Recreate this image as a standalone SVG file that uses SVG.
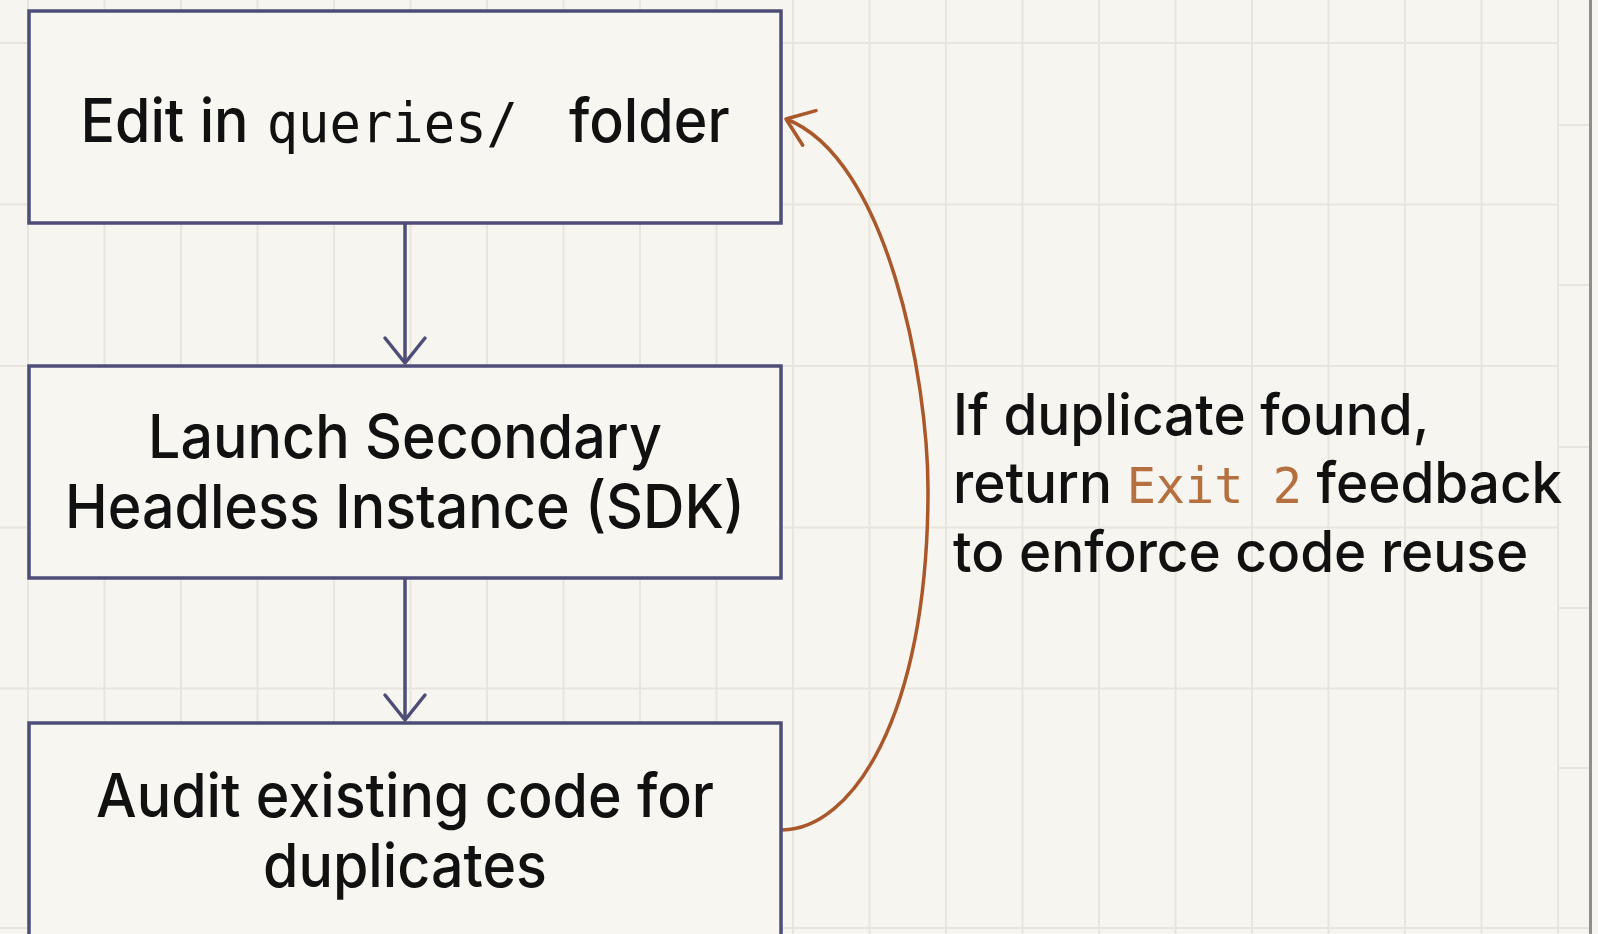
<svg xmlns="http://www.w3.org/2000/svg" width="1598" height="934" viewBox="0 0 1598 934">
  <style>
    .bg { fill: #f7f5ef; }
    .grid line { stroke: #e7e5de; stroke-width: 2; }
    .edge { stroke: #8e8e8c; stroke-width: 3; }
    .box { fill: #f8f6f1; stroke: #4d4d78; stroke-width: 3.5; }
    .label { font-family: Inter, "Noto Sans", "Liberation Sans", sans-serif; font-size: 61px; font-weight: 500; fill: #111111; }
    .note { font-family: Inter, "Noto Sans", "Liberation Sans", sans-serif; font-size: 57px; font-weight: 500; fill: #111111; }
    .mono { font-family: "DejaVu Sans Mono", "Liberation Mono", monospace; font-weight: 400; }
    .flow { fill: none; stroke: #4d4d78; stroke-width: 3.5; }
    .loop { fill: none; stroke: #a9582b; stroke-width: 3.5; }
    .exit { fill: #b5703f; }
  </style>
  <defs>
    <marker id="head-slate" markerUnits="userSpaceOnUse" markerWidth="60" markerHeight="60" refX="0" refY="0" orient="auto" overflow="visible">
      <path d="M -25 -20 L 0 0 L -25 20" fill="none" stroke="#4d4d78" stroke-width="3.5" stroke-linecap="round" stroke-linejoin="round"/>
    </marker>
    <marker id="head-rust" markerUnits="userSpaceOnUse" markerWidth="60" markerHeight="60" refX="0" refY="0" orient="auto" overflow="visible">
      <path d="M -25 -18.5 L 0 0 L -25 18.5" fill="none" stroke="#a9582b" stroke-width="3.5" stroke-linecap="round" stroke-linejoin="round"/>
    </marker>
  </defs>

  <rect class="bg" x="0" y="0" width="1598" height="934"/>

  <!-- canvas grid -->
  <g class="grid">
    <line x1="28" y1="0" x2="28" y2="934"/>
    <line x1="104.5" y1="0" x2="104.5" y2="934"/>
    <line x1="181" y1="0" x2="181" y2="934"/>
    <line x1="257.5" y1="0" x2="257.5" y2="934"/>
    <line x1="334" y1="0" x2="334" y2="934"/>
    <line x1="410.5" y1="0" x2="410.5" y2="934"/>
    <line x1="487" y1="0" x2="487" y2="934"/>
    <line x1="563.5" y1="0" x2="563.5" y2="934"/>
    <line x1="640" y1="0" x2="640" y2="934"/>
    <line x1="716.5" y1="0" x2="716.5" y2="934"/>
    <line x1="793" y1="0" x2="793" y2="934"/>
    <line x1="869.5" y1="0" x2="869.5" y2="934"/>
    <line x1="946" y1="0" x2="946" y2="934"/>
    <line x1="1022.5" y1="0" x2="1022.5" y2="934"/>
    <line x1="1099" y1="0" x2="1099" y2="934"/>
    <line x1="1175.5" y1="0" x2="1175.5" y2="934"/>
    <line x1="1252" y1="0" x2="1252" y2="934"/>
    <line x1="1328.5" y1="0" x2="1328.5" y2="934"/>
    <line x1="1405" y1="0" x2="1405" y2="934"/>
    <line x1="1481.5" y1="0" x2="1481.5" y2="934"/>
    <line x1="1558" y1="0" x2="1558" y2="934"/>
    <line x1="0" y1="43" x2="1558" y2="43"/>
    <line x1="0" y1="204.5" x2="1558" y2="204.5"/>
    <line x1="0" y1="366" x2="1558" y2="366"/>
    <line x1="0" y1="527.5" x2="1558" y2="527.5"/>
    <line x1="0" y1="688.5" x2="1558" y2="688.5"/>
    <line x1="0" y1="928" x2="1589" y2="928"/>
    <line x1="1558" y1="125" x2="1589" y2="125"/>
    <line x1="1558" y1="285" x2="1589" y2="285"/>
    <line x1="1558" y1="447" x2="1589" y2="447"/>
    <line x1="1558" y1="608" x2="1589" y2="608"/>
    <line x1="1558" y1="768" x2="1589" y2="768"/>
  </g>
  <line class="edge" x1="1590.5" y1="0" x2="1590.5" y2="934"/>

  <!-- connectors -->
  <g id="connectors">
    <line class="flow" x1="405" y1="223" x2="405" y2="363" marker-end="url(#head-slate)"/>
    <line class="flow" x1="405" y1="578" x2="405" y2="720" marker-end="url(#head-slate)"/>
    <path class="loop" d="M 782 830 C 850 830, 928 720, 928 490 C 928 380, 888 158, 786 119" marker-end="url(#head-rust)"/>
  </g>

  <!-- step: edit (labels narrowed around the box centre x=405) -->
  <g id="node-edit">
    <rect class="box" x="29" y="11" width="752" height="212"/>
    <text class="label" transform="matrix(0.94 0 0 1 24.3 0)" x="405" y="142" text-anchor="middle">Edit in <tspan class="mono" font-size="55.5" dx="3">queries/</tspan><tspan dx="38"> folder</tspan></text>
  </g>

  <!-- step: launch -->
  <g id="node-launch">
    <rect class="box" x="29" y="366" width="752" height="212"/>
    <g transform="matrix(0.94 0 0 1 24.3 0)">
      <text class="label" x="405" y="458" text-anchor="middle">Launch Secondary</text>
      <text class="label" x="405" y="528" text-anchor="middle">Headless Instance (SDK)</text>
    </g>
  </g>

  <!-- step: audit -->
  <g id="node-audit">
    <rect class="box" x="29" y="723" width="752" height="240"/>
    <g transform="matrix(0.94 0 0 1 24.3 0)">
      <text class="label" x="405" y="817" text-anchor="middle">Audit existing code for</text>
      <text class="label" x="405" y="887" text-anchor="middle">duplicates</text>
    </g>
  </g>

  <!-- feedback note (narrowed from its left edge x=953) -->
  <g id="note-feedback" transform="matrix(0.963 0 0 1 35.26 0)">
    <text class="note" x="953" y="435">If duplicate found,</text>
    <text class="note" x="953" y="503">return <tspan class="mono exit" font-size="50.4">Exit 2</tspan> feedback</text>
    <text class="note" x="953" y="572">to enforce code reuse</text>
  </g>
</svg>
